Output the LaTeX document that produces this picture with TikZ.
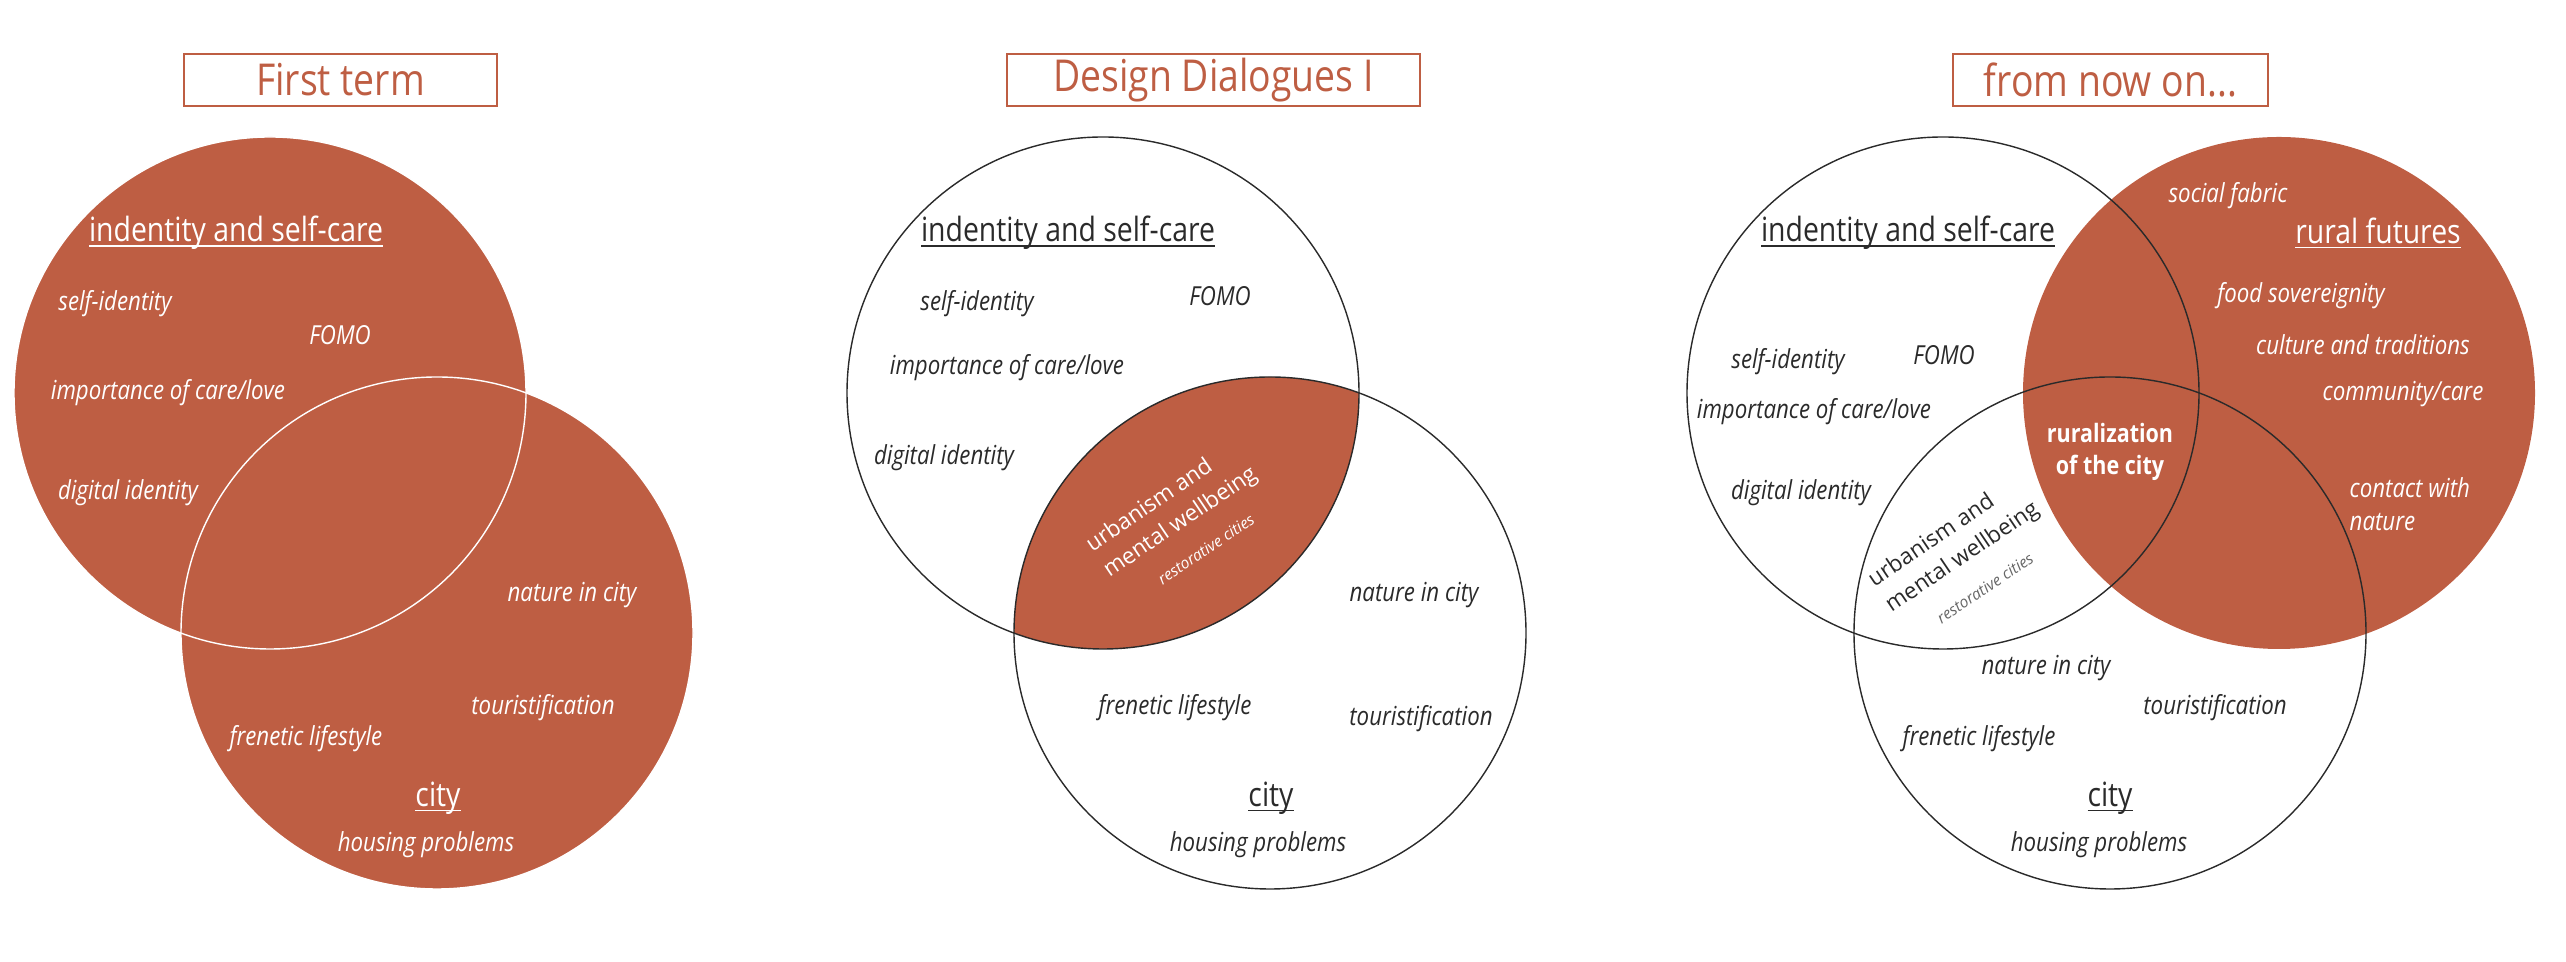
\documentclass[tikz,border=0pt]{standalone}
\usepackage{fontspec}
\setmainfont{Open Sans}[FakeStretch=0.85]
\newfontfamily\widefont{Open Sans}
\definecolor{rust}{HTML}{BE5E43}
\definecolor{ink}{HTML}{2A2A2A}
\newcommand\undertext[1]{\setbox0\hbox{#1}\rlap{\usebox0}\rule[-1.4pt]{\wd0}{0.45pt}}

\begin{document}
\begin{tikzpicture}[x=0.01cm,y=-0.01cm,
    titlebox/.style={draw=rust,line width=0.6pt,text=rust,inner sep=0pt,minimum height=0.52cm,font=\fontsize{12.5}{14}\selectfont},
    topic/.style={font=\fontsize{9.5}{11}\selectfont},
    item/.style={font=\fontsize{7.45}{9.4}\itshape\selectfont},
    ring/.style={line width=0.4pt},
    lens/.style={rotate=34,align=left,inner sep=0pt,font=\widefont\fontsize{6.4}{8.8}\selectfont},
    lenssub/.style={rotate=34,inner sep=0pt,font=\widefont\fontsize{4.45}{6}\itshape\selectfont}]
    \useasboundingbox (0,0) rectangle (2566,962);

    % First term: both sets filled.
    \node[titlebox,minimum width=3.13cm] (t1) at (340.5,80) {First term};
    \fill[rust] (270,393) circle[radius=256];
    \fill[rust] (437,633) circle[radius=256];
    \draw[ring,white] (270,393) circle[radius=256];
    \draw[ring,white] (437,633) circle[radius=256];
    \node[topic,white] (p1id) at (236,233) {\undertext{indentity and self-care}};
    \node[item,white] (p1self) at (115,304) {self-identity};
    \node[item,white] (p1fomo) at (340,335) {FOMO};
    \node[item,white] (p1care) at (168,393) {importance of care/love};
    \node[item,white] (p1dig) at (128,493) {digital identity};
    \node[item,white] (p1nat) at (572,595) {nature in city};
    \node[item,white] (p1tour) at (543,708) {touristification};
    \node[item,white] (p1fren) at (306,739) {frenetic lifestyle};
    \node[topic,white] (p1city) at (438,798) {\undertext{city}};
    \node[item,white] (p1hous) at (426,845) {housing problems};

    % Design Dialogues I: only the overlap filled.
    \node[titlebox,minimum width=4.13cm] (t2) at (1213.5,80) {Design Dialogues I};
    \begin{scope}
      \clip (1103,393) circle[radius=256];
      \fill[rust] (1270,633) circle[radius=256];
    \end{scope}
    \draw[ring,ink] (1103,393) circle[radius=256];
    \draw[ring,ink] (1270,633) circle[radius=256];
    \node[topic,ink] (p2id) at (1068,233) {\undertext{indentity and self-care}};
    \node[item,ink] (p2self) at (977,304) {self-identity};
    \node[item,ink] (p2fomo) at (1220,296) {FOMO};
    \node[item,ink] (p2care) at (1007,368) {importance of care/love};
    \node[item,ink] (p2dig) at (944,458) {digital identity};
    \node[lens,white] (p2urb) at (1172,510) {urbanism and\\mental wellbeing};
    \node[lenssub,white] (p2rest) at (1206,549) {restorative cities};
    \node[item,ink] (p2nat) at (1414,595) {nature in city};
    \node[item,ink] (p2fren) at (1175,708) {frenetic lifestyle};
    \node[item,ink] (p2tour) at (1421,719) {touristification};
    \node[topic,ink] (p2city) at (1271,798) {\undertext{city}};
    \node[item,ink] (p2hous) at (1258,845) {housing problems};

    % from now on: rural futures added.
    \node[titlebox,minimum width=3.15cm] (t3) at (2110.5,80) {from now on...};
    \fill[rust] (2279,393) circle[radius=256];
    \draw[ring,ink] (1943,393) circle[radius=256];
    \draw[ring,ink] (2110,633) circle[radius=256];
    \node[topic,ink] (p3id) at (1908,233) {\undertext{indentity and self-care}};
    \node[item,white] (p3soc) at (2228,196) {social fabric};
    \node[topic,white] (p3rur) at (2378,233) {\undertext{rural futures}};
    \node[item,white] (p3food) at (2301,296) {food sovereignity};
    \node[item,white] (p3cult) at (2363,345) {culture and traditions};
    \node[item,white] (p3comm) at (2403,394) {community/care};
    \node[item,ink] (p3self) at (1788,362) {self-identity};
    \node[item,ink] (p3fomo) at (1944,355) {FOMO};
    \node[item,ink] (p3care) at (1814,412) {importance of care/love};
    \node[white,align=center,font=\fontsize{7.2}{9}\bfseries\selectfont] (p3rurc) at (2110,452) {ruralization\\of the city};
    \node[item,white,align=left,anchor=west,inner sep=0pt] (p3cont) at (2349,504) {contact with\\nature};
    \node[item,ink] (p3dig) at (1801,493) {digital identity};
    \node[lens,ink] (p3urb) at (1954,545) {urbanism and\\mental wellbeing};
    \node[lenssub,black!60] (p3rest) at (1985,588) {restorative cities};
    \node[item,ink] (p3nat) at (2046,668) {nature in city};
    \node[item,ink] (p3tour) at (2215,708) {touristification};
    \node[item,ink] (p3fren) at (1979,739) {frenetic lifestyle};
    \node[topic,ink] (p3city) at (2110,798) {\undertext{city}};
    \node[item,ink] (p3hous) at (2099,845) {housing problems};
\end{tikzpicture}
\end{document}
